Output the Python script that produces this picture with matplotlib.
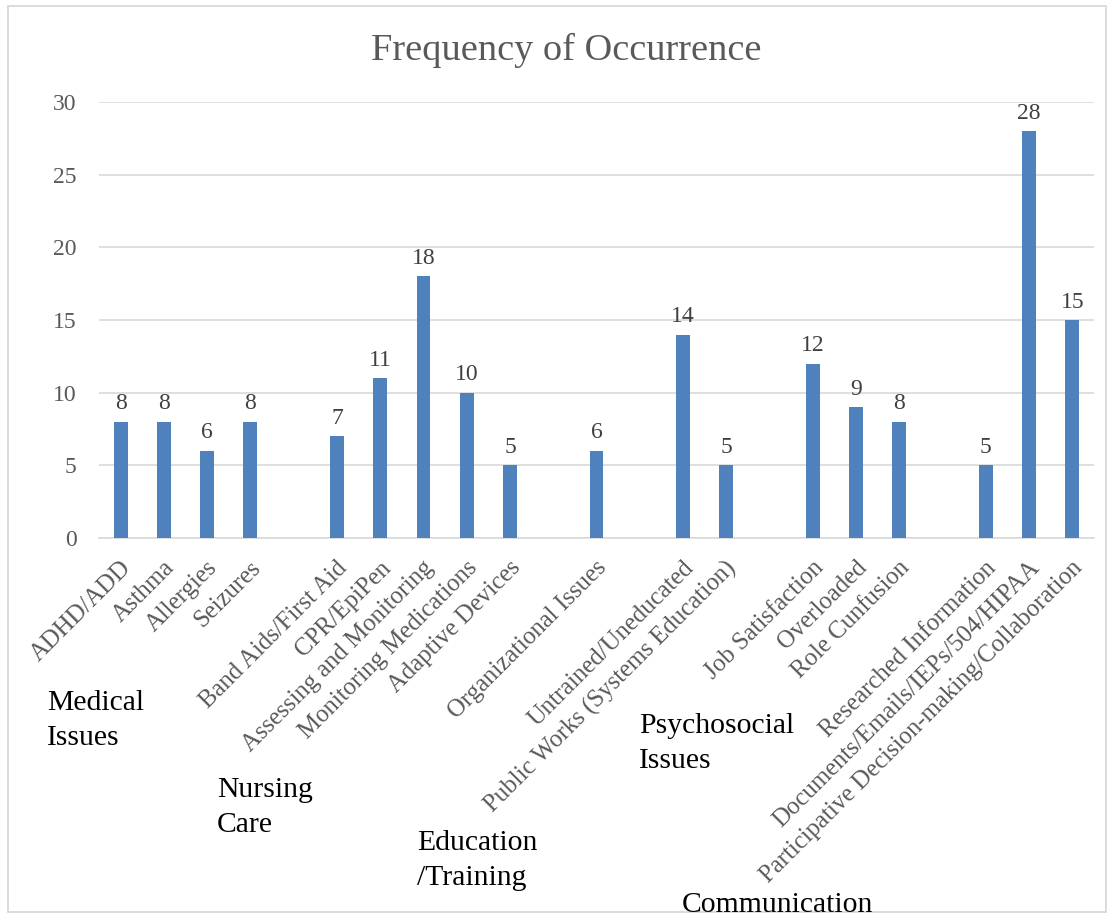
import matplotlib
matplotlib.use("Agg")
import matplotlib.pyplot as plt
import matplotlib.transforms as mtransforms
from matplotlib.patches import Rectangle
import numpy as np

# categories in order; '' marks an empty slot between groups
labels = ["ADHD/ADD", "Asthma", "Allergies", "Seizures", "",
          "Band Aids/First Aid", "CPR/EpiPen", "Assessing and Monitoring",
          "Monitoring Medications", "Adaptive Devices", "",
          "Organizational Issues", "",
          "Untrained/Uneducated", "Public Works (Systems Education)", "",
          "Job Satisfaction", "Overloaded", "Role Cunfusion", "",
          "Researched Information", "Documents/Emails/IEPs/504/HIPAA",
          "Participative Decision-making/Collaboration"]
values = [8, 8, 6, 8, None,
          7, 11, 18, 10, 5, None,
          6, None,
          14, 5, None,
          12, 9, 8, None,
          5, 28, 15]

# group captions under the axis: (lines, left x px, first baseline px)
groups = [(["Medical", "Issues"], 47, 710),
          (["Nursing", "Care"], 217, 797),
          (["Education", "/Training"], 417, 850),
          (["Psychosocial", "Issues"], 639, 733),
          (["Communication"], 682, 912)]

plt.rcParams['font.family'] = ['Liberation Serif', 'DejaVu Serif']
W, H = 1112, 916
fig = plt.figure(figsize=(W / 100, H / 100), dpi=100)
ax = fig.add_axes([99 / W, 1 - 538 / H, (1094 - 99) / W, (538 - 102) / H])

x = np.arange(len(labels))
heights = [v if v is not None else 0 for v in values]
ax.bar(x, heights, width=0.32, color="#4f81bd", zorder=3)
for xi, v in zip(x, values):
    if v is not None:
        ax.text(xi, v + 0.85, str(v), ha="center", va="baseline",
                fontsize=17, color="#404040")

ax.set_xlim(-0.5, len(labels) - 0.5)
ax.set_ylim(0, 30)
ax.set_yticks(range(0, 31, 5))
ax.grid(axis="y", color="#d9d9d9", linewidth=1.2, zorder=0)
for s in ["top", "right", "left"]:
    ax.spines[s].set_visible(False)
ax.spines["bottom"].set_color("#d9d9d9")
ax.spines["bottom"].set_linewidth(1.2)
ax.tick_params(axis="both", length=0, colors="#595959", labelsize=17)
ax.tick_params(axis="y", pad=16)
ax.set_xticks(x)
ax.set_xticklabels(labels, rotation=45, ha="right", va="center",
                   rotation_mode="anchor", fontsize=17.8, color="#595959")
ax.tick_params(axis="x", pad=19)
shift = mtransforms.ScaledTranslation(7 / 100, 0, fig.dpi_scale_trans)
for lab in ax.get_xticklabels():
    lab.set_transform(lab.get_transform() + shift)

fig.text(566 / W, 1 - 60 / H, "Frequency of Occurrence", ha="center",
         va="baseline", fontsize=27.6, color="#595959")

for lines, gx, gy in groups:
    for i, line in enumerate(lines):
        fig.text(gx / W, 1 - (gy + 35 * i) / H, line, ha="left",
                 va="baseline", fontsize=21.3, color="black")

fig.patches.append(Rectangle((8 / W, 1 - 912 / H), (1106 - 8) / W, (912 - 6) / H,
                             transform=fig.transFigure, fill=False,
                             edgecolor="#d9d9d9", linewidth=1.3))

fig.savefig("out.png", dpi=100)
